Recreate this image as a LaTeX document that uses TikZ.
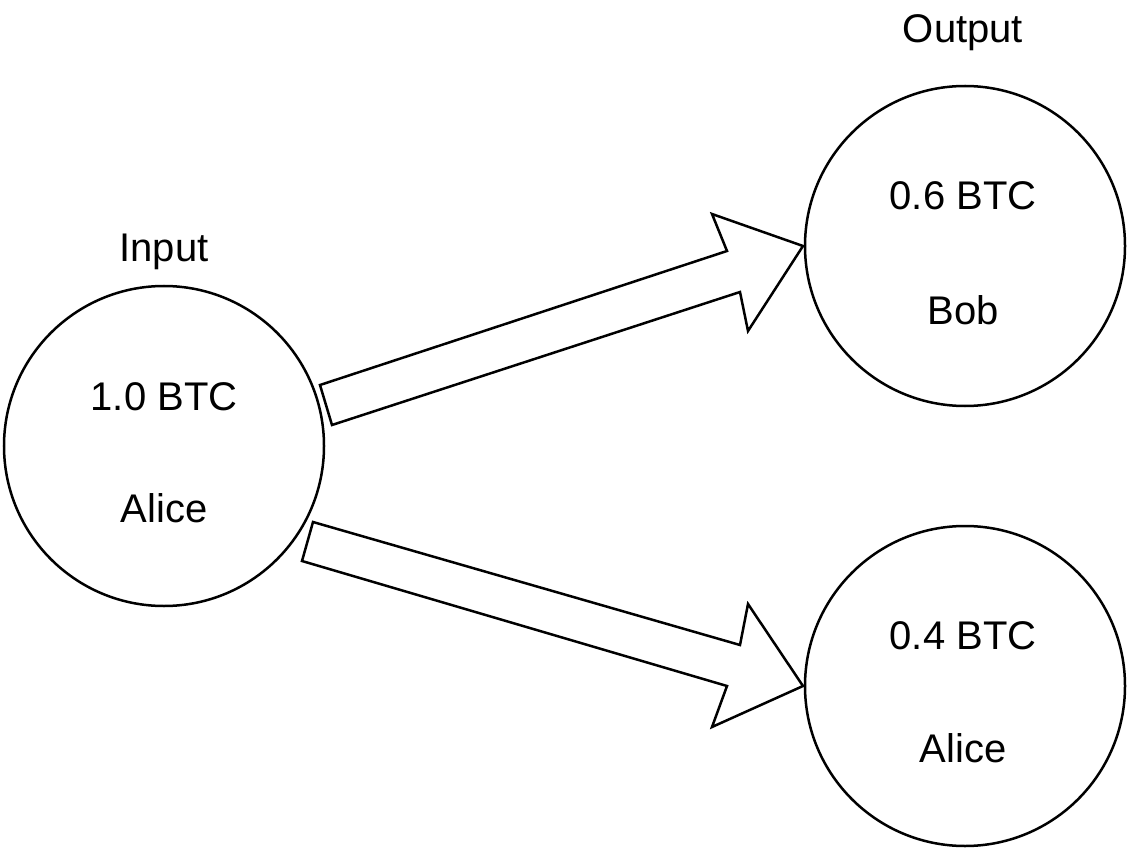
\documentclass[tikz,border=0pt]{standalone}
\usepackage{fontspec}
\setmainfont{Liberation Sans}
\begin{document}
\begin{tikzpicture}[x=1pt,y=-1pt,
  circ/.style={draw,line width=2.5pt,circle,minimum size=320pt,inner sep=0pt},
  lbl/.style={font=\fontsize{40}{48}\selectfont,inner sep=0pt},
  blk/.style={draw,line width=2.5pt,line join=miter}]
\useasboundingbox (0,0) rectangle (1127,850);
\node[circ] (in) at (164,446) {};
\node[circ] (o1) at (965,246) {};
\node[circ] (o2) at (965,686) {};
\node[lbl] (tin) at (164,252) {Input};
\node[lbl] (tout) at (963,33) {Output};
\node[lbl] (a1) at (164,397) {1.0 BTC};
\node[lbl] (a2) at (164,508) {Alice};
\node[lbl] (b1) at (963,196) {0.6 BTC};
\node[lbl] (b2) at (963,310) {Bob};
\node[lbl] (c1) at (963,636) {0.4 BTC};
\node[lbl] (c2) at (963,748) {Alice};
\draw[blk] (320,385) -- (727,251) -- (712,214) -- (803,246) -- (748,331) -- (740,292) -- (332,425) -- cycle;
\draw[blk] (313,522) -- (740,645) -- (748,604) -- (803,686) -- (712,727) -- (727,686) -- (302,561) -- cycle;
\end{tikzpicture}
\end{document}
